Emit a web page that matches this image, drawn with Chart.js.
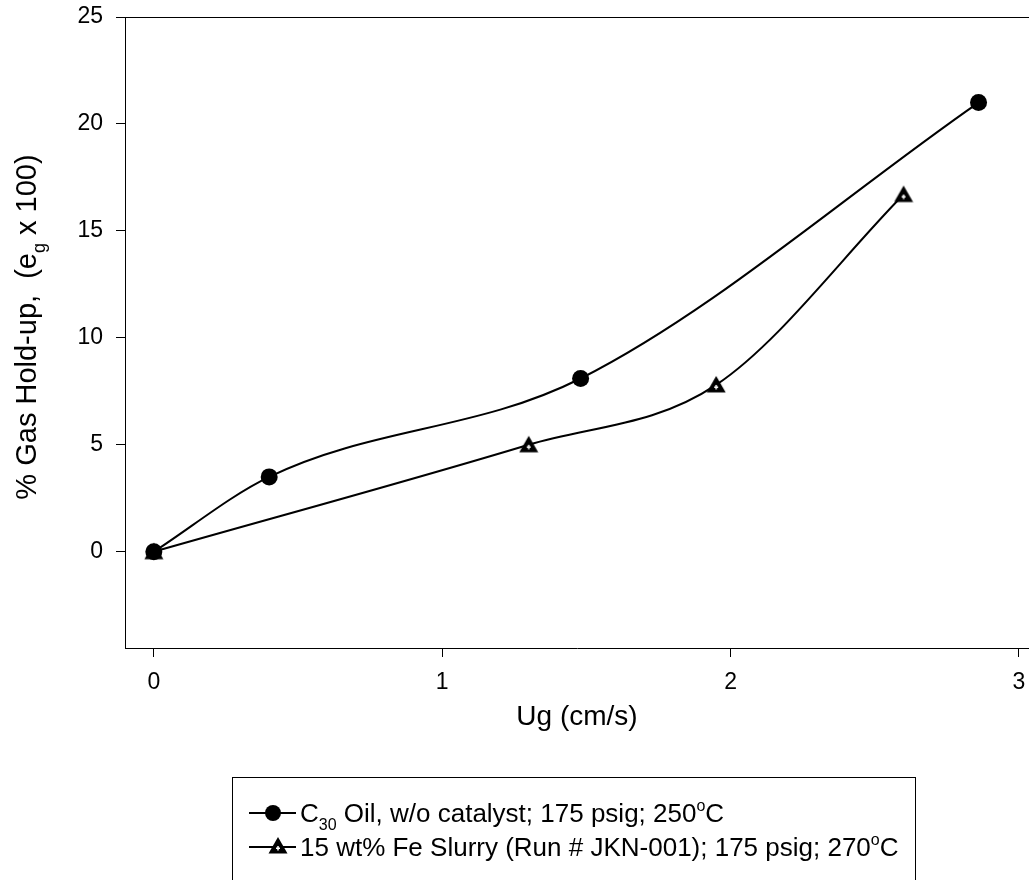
<!DOCTYPE html>
<html>
<head>
<meta charset="utf-8">
<script src="https://cdn.jsdelivr.net/npm/chart.js@4.4.1/dist/chart.umd.min.js"></script>
<style>
  html, body { margin: 0; padding: 0; background: #fff; overflow: hidden; }
  #wrap { width: 1029px; height: 880px; overflow: hidden; }
</style>
</head>
<body>
<div id="wrap"><canvas id="myChart" width="1040" height="880"></canvas></div>
<script>
// superficial gas velocity (cm/s) vs gas hold-up (%)
const oilUg = [0, 0.40, 1.48, 2.86];
const oilHoldup = [0, 3.5, 8.1, 21.0];

const slurryUg = [0, 1.30, 1.95, 2.60];
const slurryHoldup = [0, 5.0, 7.8, 16.7];

const xTicks = [0, 1, 2, 3];
const yTicks = [0, 5, 10, 15, 20, 25];

const FONT = "'Liberation Sans', Arial, sans-serif";

function toPoints(xs, ys) {
    return xs.map((x, i) => ({ x: x, y: ys[i] }));
}

// black triangle with a small white cross in the middle
function triangleMarker() {
    const c = document.createElement('canvas');
    c.width = 20; c.height = 20;
    const g = c.getContext('2d');
    g.fillStyle = '#000';
    g.beginPath();
    g.moveTo(10, 1);
    g.lineTo(19.5, 17.5);
    g.lineTo(0.5, 17.5);
    g.closePath();
    g.fill();
    g.fillStyle = '#fff';
    g.fillRect(9.25, 10, 1.5, 4.5);
    g.fillRect(8, 11.5, 4, 1.5);
    return c;
}
const triImg = triangleMarker();

// text with sub/superscript pieces: [text, 'n'|'sub'|'sup']
function richWidth(ctx, parts, size) {
    let w = 0;
    parts.forEach(p => {
        ctx.font = (p[1] === 'n' ? size : Math.round(size * 0.62)) + 'px ' + FONT;
        w += ctx.measureText(p[0]).width;
    });
    return w;
}
function drawRich(ctx, parts, x, y, size) {
    ctx.textBaseline = 'alphabetic';
    ctx.textAlign = 'left';
    parts.forEach(p => {
        let dy = 0;
        if (p[1] === 'n') {
            ctx.font = size + 'px ' + FONT;
        } else {
            ctx.font = Math.round(size * 0.62) + 'px ' + FONT;
            dy = p[1] === 'sub' ? size * 0.3 : -size * 0.42;
        }
        ctx.fillText(p[0], x, y + dy);
        x += ctx.measureText(p[0]).width;
    });
}

const legendRows = [
    { parts: [['C', 'n'], ['30', 'sub'], [' Oil, w/o catalyst; 175 psig; 250', 'n'], ['o', 'sup'], ['C', 'n']], marker: 'circle' },
    { parts: [['15 wt% Fe Slurry (Run # JKN-001); 175 psig; 270', 'n'], ['o', 'sup'], ['C', 'n']], marker: 'tri' }
];
const yTitle = [['% Gas Hold-up,  (e', 'n'], ['g', 'sub'], [' x 100)', 'n']];
const xTitle = [['Ug (cm/s)', 'n']];

const decorations = {
    id: 'decorations',
    afterDraw(chart) {
        const ctx = chart.ctx;
        const area = chart.chartArea;
        ctx.save();
        ctx.strokeStyle = '#000';
        ctx.lineWidth = 1;
        // top frame line
        ctx.beginPath();
        ctx.moveTo(area.left, area.top + 0.5);
        ctx.lineTo(area.right, area.top + 0.5);
        ctx.stroke();

        ctx.fillStyle = '#000';
        // axis titles
        const xs = 28;
        const xw = richWidth(ctx, xTitle, xs);
        drawRich(ctx, xTitle, 577 - xw / 2, 725, xs);

        const ys = 29;
        const yw = richWidth(ctx, yTitle, ys);
        ctx.save();
        ctx.translate(36, 327);
        ctx.rotate(-Math.PI / 2);
        drawRich(ctx, yTitle, -yw / 2, 0, ys);
        ctx.restore();

        // legend box
        ctx.lineWidth = 1;
        ctx.strokeRect(232.5, 777.5, 683, 120);
        legendRows.forEach((row, i) => {
            const cy = 813 + i * 34;
            ctx.lineWidth = 1.8;
            ctx.beginPath();
            ctx.moveTo(249, cy);
            ctx.lineTo(296, cy);
            ctx.stroke();
            if (row.marker === 'circle') {
                ctx.beginPath();
                ctx.arc(273, cy, 8, 0, Math.PI * 2);
                ctx.fill();
            } else {
                ctx.drawImage(triImg, 268, cy - 11, 20, 20);
            }
            drawRich(ctx, row.parts, 300, cy + 9, 26);
        });
        ctx.restore();
    }
};

const data = {
    datasets: [{
        label: 'C30 Oil',
        data: toPoints(oilUg, oilHoldup),
        showLine: true,
        borderColor: '#000',
        backgroundColor: '#000',
        borderWidth: 2,
        cubicInterpolationMode: 'monotone',
        pointStyle: 'circle',
        pointRadius: 8.5,
        pointBorderWidth: 0
    }, {
        label: '15 wt% Fe Slurry',
        data: toPoints(slurryUg, slurryHoldup),
        showLine: true,
        borderColor: '#000',
        backgroundColor: '#000',
        borderWidth: 2,
        cubicInterpolationMode: 'monotone',
        pointStyle: triImg,
        pointRadius: 9
    }]
};

const tickFont = { family: FONT, size: 23 };

const config = {
    type: 'scatter',
    data: data,
    options: {
        responsive: false,
        animation: false,
        devicePixelRatio: 1,
        layout: { padding: { top: 17, left: 0, right: 0, bottom: 0 } },
        plugins: {
            legend: { display: false },
            tooltip: { enabled: false }
        },
        scales: {
            x: {
                type: 'linear',
                min: -0.1,
                max: 3.035,
                afterBuildTicks: scale => { scale.ticks = xTicks.map(v => ({ value: v })); },
                afterFit: scale => {
                    scale.height = 880 - 648;
                    scale.paddingLeft = 0;
                    scale.paddingRight = 0;
                },
                ticks: { color: '#000', font: tickFont, padding: 12, maxRotation: 0 },
                grid: { drawOnChartArea: false, drawTicks: true, tickLength: 9, color: '#000', lineWidth: 1 },
                border: { display: true, color: '#000', width: 1 }
            },
            y: {
                type: 'linear',
                min: -4.5,
                max: 25,
                afterBuildTicks: scale => { scale.ticks = yTicks.map(v => ({ value: v })); },
                afterFit: scale => {
                    scale.width = 125;
                    scale.paddingTop = 0;
                    scale.paddingBottom = 0;
                },
                ticks: { color: '#000', font: tickFont, padding: 13 },
                grid: { drawOnChartArea: false, drawTicks: true, tickLength: 9, color: '#000', lineWidth: 1 },
                border: { display: true, color: '#000', width: 1 }
            }
        }
    },
    plugins: [decorations]
};

let myChart = document.getElementById('myChart').getContext('2d');
let scatterChart = new Chart(myChart, config);
</script>
</body>
</html>
